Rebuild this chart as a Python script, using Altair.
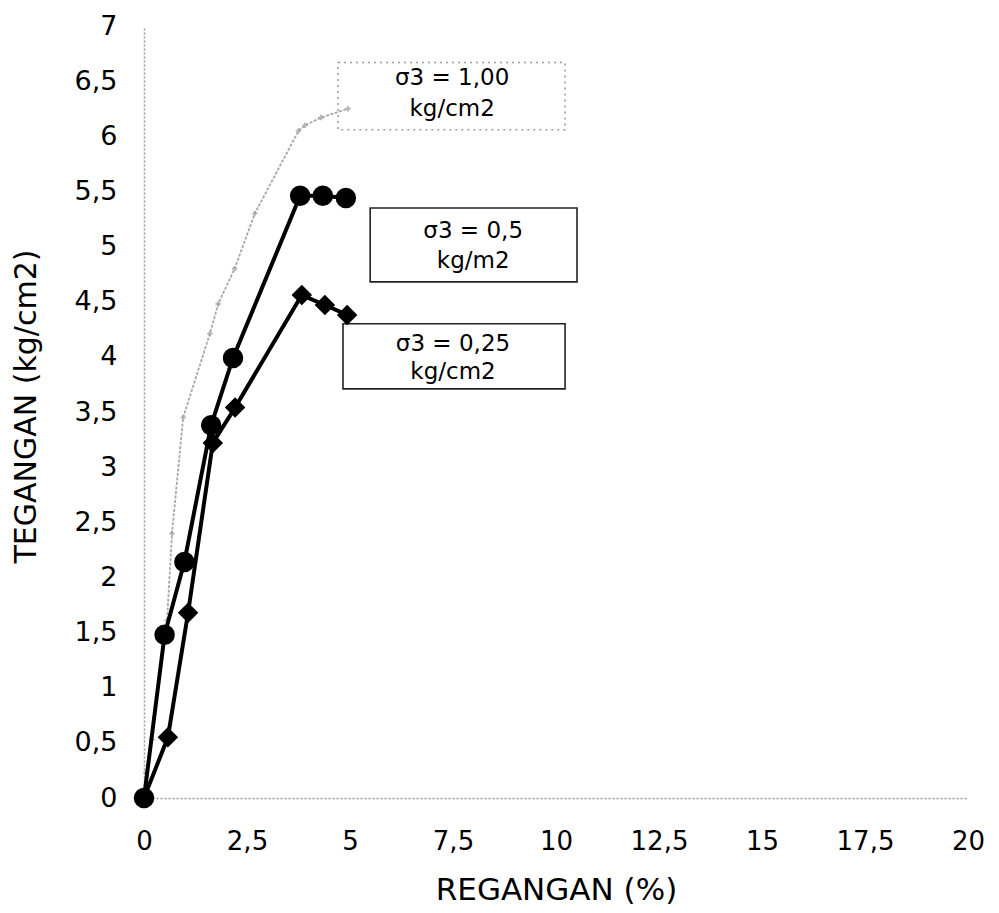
import altair as alt
import pandas as pd

# ---- data ----
strain_100 = [0, 0.05, 0.19, 0.56, 0.68, 0.95, 1.60, 1.80, 2.20, 2.69, 3.75, 3.91, 4.30, 4.95]
stress_100 = [0, 0.23, 0.53, 1.61, 2.40, 3.45, 4.21, 4.48, 4.80, 5.30, 6.05, 6.10, 6.17, 6.25]

strain_050 = [0, 0.50, 0.98, 1.63, 2.16, 3.79, 4.34, 4.90]
stress_050 = [0, 1.48, 2.14, 3.38, 3.99, 5.46, 5.46, 5.44]

strain_025 = [0, 0.58, 1.07, 1.67, 2.21, 3.83, 4.39, 4.93]
stress_025 = [0, 0.55, 1.68, 3.22, 3.54, 4.56, 4.47, 4.38]

x_ticks = [0, 2.5, 5, 7.5, 10, 12.5, 15, 17.5, 20]
y_ticks = [0, 0.5, 1, 1.5, 2, 2.5, 3, 3.5, 4, 4.5, 5, 5.5, 6, 6.5, 7]

box_x1 = [4.71, 5.49, 4.83]
box_x2 = [10.22, 10.51, 10.22]
box_y1 = [6.67, 5.35, 4.30]
box_y2 = [6.06, 4.68, 3.71]
box_style = ["dotted", "solid", "solid"]
label_x = [7.48, 7.99, 7.50]
label_y1 = [6.53, 5.14, 4.12]
label_y2 = [6.25, 4.87, 3.86]
label_line1 = ["σ3 =  1,00", "σ3 = 0,5", "σ3 = 0,25"]
label_line2 = ["kg/cm2", "kg/m2", "kg/cm2"]

FONT = "DejaVu Sans"
comma_expr = "replace(format(datum.value, ''), '.', ',')"

df100 = pd.DataFrame({"x": strain_100, "y": stress_100})
df050 = pd.DataFrame({"x": strain_050, "y": stress_050})
df025 = pd.DataFrame({"x": strain_025, "y": stress_025})
boxes = pd.DataFrame({"x": box_x1, "x2": box_x2, "y": box_y1, "y2": box_y2, "style": box_style})
labels = pd.DataFrame({
    "x": label_x + label_x,
    "y": label_y1 + label_y2,
    "t": label_line1 + label_line2,
})

xscale = alt.Scale(domain=[0, 20], nice=False, zero=False)
yscale = alt.Scale(domain=[0, 7], nice=False, zero=False)

xaxis = alt.Axis(
    values=x_ticks, labelExpr=comma_expr, grid=False, ticks=False, labelFlush=False,
    domainColor="#9a9a9a", domainDash=[2, 2], domainWidth=1.5,
    labelFont=FONT, labelFontSize=26, labelColor="black", labelPadding=30,
    title="REGANGAN (%)", titleFont=FONT, titleFontSize=31, titleFontWeight="normal",
    titleColor="black", titleY=92, titleBaseline="middle",
)
yaxis = alt.Axis(
    values=y_ticks, labelExpr=comma_expr, grid=False, ticks=False, labelFlush=False,
    domainColor="#9a9a9a", domainDash=[2, 2], domainWidth=1.5,
    labelFont=FONT, labelFontSize=27, labelColor="black", labelPadding=27,
    labelBaseline="middle",
    title="TEGANGAN  (kg/cm2)", titleFont=FONT, titleFontSize=30, titleFontWeight="normal",
    titleColor="black", titleX=-118, titleY=380, titleBaseline="middle", titleAlign="center",
)

X = alt.X("x:Q", scale=xscale, axis=xaxis)
Y = alt.Y("y:Q", scale=yscale, axis=yaxis)

dotted_box = alt.Chart(boxes).transform_filter("datum.style == 'dotted'").mark_rect(
    fill="white", stroke="#9a9a9a", strokeWidth=1.5, strokeDash=[2, 4]
).encode(x=X, x2="x2:Q", y=Y, y2="y2:Q")

solid_box = alt.Chart(boxes).transform_filter("datum.style == 'solid'").mark_rect(
    fill="white", stroke="#222222", strokeWidth=1.6
).encode(x=X, x2="x2:Q", y=Y, y2="y2:Q")

text_layer = alt.Chart(labels).mark_text(
    font=FONT, fontSize=23, color="black", align="center", baseline="middle"
).encode(x=X, y=Y, text="t:N")

gray_line = alt.Chart(df100).mark_line(
    color="#a8a8a8", strokeWidth=1.8, strokeDash=[3, 1.5]
).encode(x=X, y=Y)
gray_pts = alt.Chart(df100).mark_point(
    shape="cross", size=30, color="#a0a0a0", filled=True
).encode(x=X, y=Y)

line050 = alt.Chart(df050).mark_line(color="black", strokeWidth=4).encode(x=X, y=Y)
pts050 = alt.Chart(df050).mark_point(
    shape="circle", size=420, filled=True, color="black", opacity=1
).encode(x=X, y=Y)

line025 = alt.Chart(df025).mark_line(color="black", strokeWidth=4).encode(x=X, y=Y)
pts025 = alt.Chart(df025).mark_point(
    shape="diamond", size=420, filled=True, color="black", opacity=1
).encode(x=X, y=Y)

chart = alt.layer(
    dotted_box, solid_box, text_layer,
    gray_line, gray_pts, line025, pts025, line050, pts050,
).properties(
    width=824, height=772,
    autosize=alt.AutoSizeParams(type="none"),
    padding={"left": 136, "top": 18, "right": 20, "bottom": 112},
).configure(background="white").configure_view(stroke=None)

chart.save("out.html", embed_options={"renderer": "svg", "actions": False})
